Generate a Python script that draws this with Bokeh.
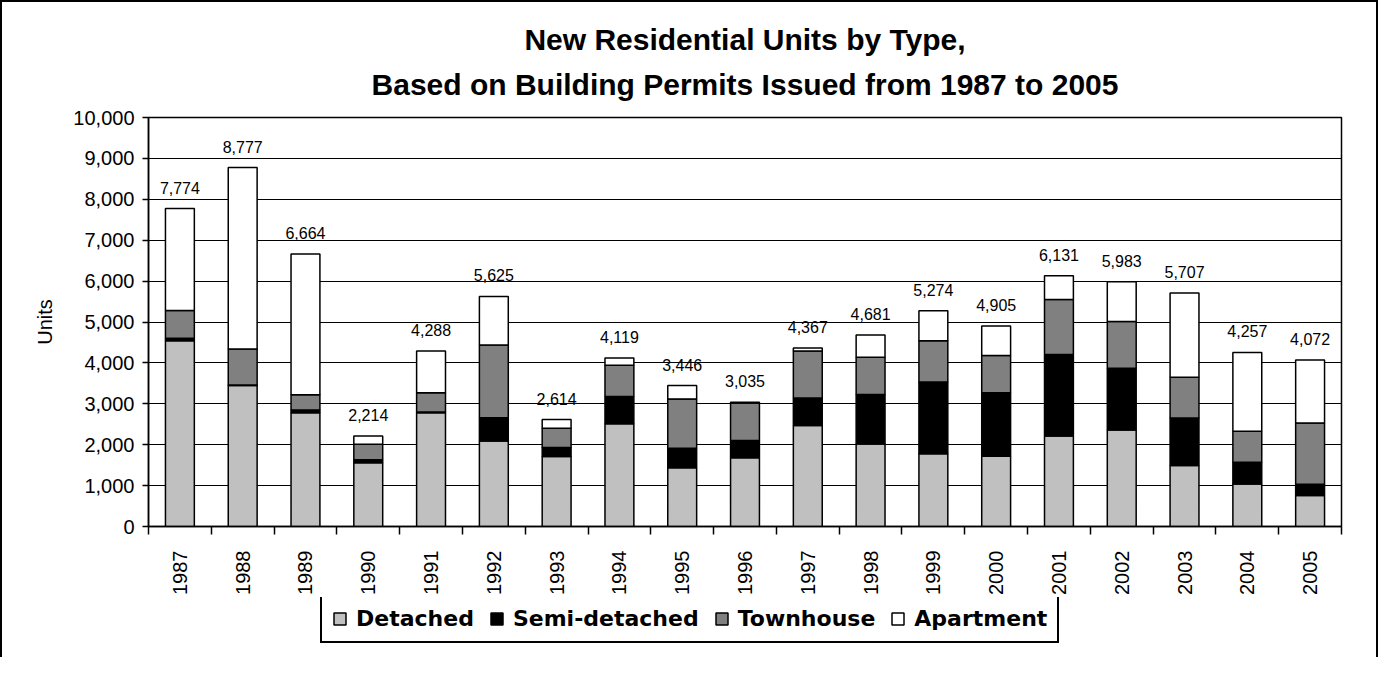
import math
from bokeh.plotting import figure
from bokeh.layouts import column
from bokeh.models import (ColumnDataSource, Range1d, FixedTicker, NumeralTickFormatter,
                          Legend, LegendItem, Title, LinearAxis)
from bokeh.core.properties import value
from bokeh.embed import file_html
from bokeh.resources import INLINE

years = ["1987", "1988", "1989", "1990", "1991", "1992", "1993", "1994", "1995", "1996",
         "1997", "1998", "1999", "2000", "2001", "2002", "2003", "2004", "2005"]
detached = [4540, 3450, 2780, 1560, 2780, 2090, 1710, 2510, 1434, 1680,
            2470, 2020, 1780, 1720, 2210, 2360, 1490, 1040, 760]
semi_detached = [60, 10, 70, 70, 20, 570, 220, 670, 480, 420,
                 670, 1210, 1750, 1550, 1995, 1510, 1160, 530, 270]
townhouse = [680, 880, 370, 380, 470, 1780, 470, 760, 1206, 920,
             1150, 910, 1010, 910, 1345, 1140, 1000, 760, 1500]
apartment = [2494, 4437, 3444, 204, 1018, 1185, 214, 179, 326, 15,
             77, 541, 734, 725, 581, 973, 2057, 1927, 1542]
series_names = ["Detached", "Semi-detached", "Townhouse", "Apartment"]
series_colors = ["#C0C0C0", "#000000", "#808080", "#FFFFFF"]
title_lines = ["New Residential Units by Type,",
               "Based on Building Permits Issued from 1987 to 2005"]

xs = list(range(len(years)))
totals = [a + b + c + d for a, b, c, d in zip(detached, semi_detached, townhouse, apartment)]
total_labels = [f"{t:,}" for t in totals]

src = ColumnDataSource(dict(x=xs, Detached=detached, **{"Semi-detached": semi_detached},
                            Townhouse=townhouse, Apartment=apartment,
                            total=totals, label=total_labels))

W = 1374
p = figure(width=W, height=595, output_backend="svg", toolbar_location=None,
           x_axis_type=None, x_range=Range1d(-0.5, len(years) - 0.5),
           y_range=Range1d(0, 10000),
           min_border_left=146, min_border_right=35, min_border_top=115, min_border_bottom=71)
p.background_fill_color = "white"
p.border_fill_color = "white"
p.outline_line_color = "black"
p.outline_line_width = 1.5

renderers = p.vbar_stack(series_names, x="x", width=0.46, source=src,
                         color=series_colors, line_color="black", line_width=1.5)
for r, c in zip(renderers, series_colors):
    r.glyph.fill_color = c
    r.glyph.line_color = "black"

p.text(x="x", y="total", text="label", source=src, text_align="center",
       text_baseline="bottom", y_offset=-15, text_font=value("Liberation Sans"),
       text_font_size="16px", text_color="black")

# y axis
yax = p.yaxis[0]
yax.ticker = FixedTicker(ticks=list(range(0, 10001, 1000)))
yax.formatter = NumeralTickFormatter(format="0,0")
yax.major_label_text_font = "Liberation Sans"
yax.major_label_text_font_size = "20px"
yax.major_label_text_color = "black"
yax.major_tick_out = 6
yax.major_tick_in = 0
yax.minor_tick_line_color = None
yax.axis_line_color = "black"
yax.axis_line_width = 1.5
yax.major_tick_line_width = 1.5
yax.major_label_standoff = 8
yax.axis_label = "Units"
yax.axis_label_text_font = "Liberation Sans"
yax.axis_label_text_font_size = "20px"
yax.axis_label_text_font_style = "normal"
yax.axis_label_text_color = "black"
yax.axis_label_standoff = 14

p.ygrid.grid_line_color = "black"
p.ygrid.grid_line_width = 1.2
p.ygrid.ticker = FixedTicker(ticks=list(range(0, 10001, 1000)))

# x axis: labels at centres, tick marks at category boundaries
xax = LinearAxis(ticker=FixedTicker(ticks=xs, minor_ticks=[i - 0.5 for i in range(len(years) + 1)]),
                 major_label_overrides={i: y for i, y in enumerate(years)})
xax.major_label_orientation = math.pi / 2
xax.major_label_text_font = "Liberation Sans"
xax.major_label_text_font_size = "20px"
xax.major_label_text_color = "black"
xax.major_tick_out = 0
xax.major_tick_in = 0
xax.minor_tick_out = 8
xax.minor_tick_in = 0
xax.minor_tick_line_color = "black"
xax.minor_tick_line_width = 1.5
xax.axis_line_color = "black"
xax.axis_line_width = 1.5
xax.major_label_standoff = 16
p.add_layout(xax, "below")

# two title lines (first added sits nearest the plot)
t2 = Title(text=title_lines[1], align="center", text_font="Liberation Sans",
           text_font_size="30px", text_font_style="bold", text_color="black", standoff=33)
t1 = Title(text=title_lines[0], align="center", text_font="Liberation Sans",
           text_font_size="30px", text_font_style="bold", text_color="black", standoff=-13)
p.add_layout(t2, "above")
p.add_layout(t1, "above")

# legend strip (separate figure so the legend is not clipped by the plot frame)
pl = figure(width=W, height=60, output_backend="svg", toolbar_location=None,
            x_axis_type=None, y_axis_type=None, x_range=Range1d(0, 1), y_range=Range1d(0, 1),
            min_border=0)
pl.outline_line_color = None
pl.grid.visible = False
# legend proxies: one undrawable (NaN) bar each, used only for the legend swatches
nan = float("nan")
proxies = [pl.vbar(x=[nan], bottom=[nan], top=[nan], width=1, fill_color=c,
                   line_color="black", line_width=1.5)
           for c in series_colors]
legend = Legend(items=[LegendItem(label=n, renderers=[r]) for n, r in zip(series_names, proxies)],
                orientation="horizontal", location=(172, 14), margin=0,
                padding=10, spacing=15, label_standoff=9, glyph_width=15, glyph_height=15,
                label_text_font="DejaVu Sans", label_text_font_style="bold",
                label_text_font_size="22px", label_text_color="black",
                border_line_color="black", border_line_width=2, border_line_alpha=1.0,
                background_fill_color="white", background_fill_alpha=1.0)
pl.add_layout(legend)

layout = column(p, pl, spacing=0)
layout.styles = {"border-left": "2px solid black", "border-top": "2px solid black",
                 "border-right": "2px solid black"}

open("out.html", "w").write(file_html(layout, INLINE))
